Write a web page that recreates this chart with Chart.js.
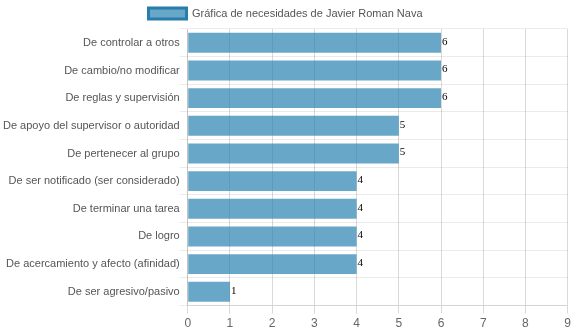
<!DOCTYPE html>
<html><head><meta charset="utf-8">
<script src="https://cdn.jsdelivr.net/npm/chart.js@4/dist/chart.umd.min.js"></script>
<style>html,body{margin:0;padding:0;background:#fff}#w{width:574px;height:334px}</style>
</head><body><div id="w"><canvas id="c"></canvas></div>
<script>
const categories = ["De controlar a otros","De cambio/no modificar","De reglas y supervisión","De apoyo del supervisor o autoridad","De pertenecer al grupo","De ser notificado (ser considerado)","De terminar una tarea","De logro","De acercamiento y afecto (afinidad)","De ser agresivo/pasivo"];
const values = [6,6,6,5,5,4,4,4,4,1];
const seriesName = "Gráfica de necesidades de Javier Roman Nava";
const xTicks = [0,1,2,3,4,5,6,7,8,9];

const labelPlugin = {
  id:'vals',
  afterDatasetsDraw(chart){
    const ctx = chart.ctx;
    const meta = chart.getDatasetMeta(0);
    ctx.save();
    ctx.font = '11px "Liberation Serif", "Times New Roman", serif';
    ctx.fillStyle = '#000';
    ctx.textBaseline = 'middle';
    ctx.textAlign = 'left';
    meta.data.forEach((b,i)=>{ ctx.fillText(String(values[i]), b.x + 1, b.y - 1); });
    ctx.restore();
  }
};

const SANS = '"Liberation Sans", Arial, sans-serif';
new Chart(document.getElementById('c'), {
  type:'bar',
  data:{labels:categories, datasets:[{label:seriesName, data:values,
    backgroundColor:'rgba(40,130,175,0.7)', borderColor:'rgba(40,125,170,1)', borderWidth:0,
    categoryPercentage:0.8, barPercentage:0.9}]},
  options:{
    indexAxis:'y', responsive:true, maintainAspectRatio:false, animation:false,
    layout:{padding:{left:3,right:6,top:0,bottom:0}},
    plugins:{
      legend:{labels:{font:{family:SANS, size:11}, color:'#555', boxWidth:38, padding:8,
        generateLabels(chart){ return [{text:seriesName, fillStyle:'rgba(40,130,175,0.7)', strokeStyle:'rgba(40,125,170,1)', lineWidth:3, hidden:false, datasetIndex:0, fontColor:'#555'}]; }}},
      tooltip:{enabled:false}
    },
    scales:{
      x:{min:0,max:9,afterBuildTicks(ax){ax.ticks = xTicks.map(v=>({value:v}));},
        ticks:{stepSize:1,color:'#666',font:{family:SANS, size:12}},
        grid:{color:'rgba(0,0,0,0.15)',lineWidth:1}},
      y:{ticks:{color:'#555',padding:0,font:{family:SANS, size:11}},
        grid:{color:'rgba(0,0,0,0.08)'}}
    }
  },
  plugins:[labelPlugin]
});
</script></body></html>
